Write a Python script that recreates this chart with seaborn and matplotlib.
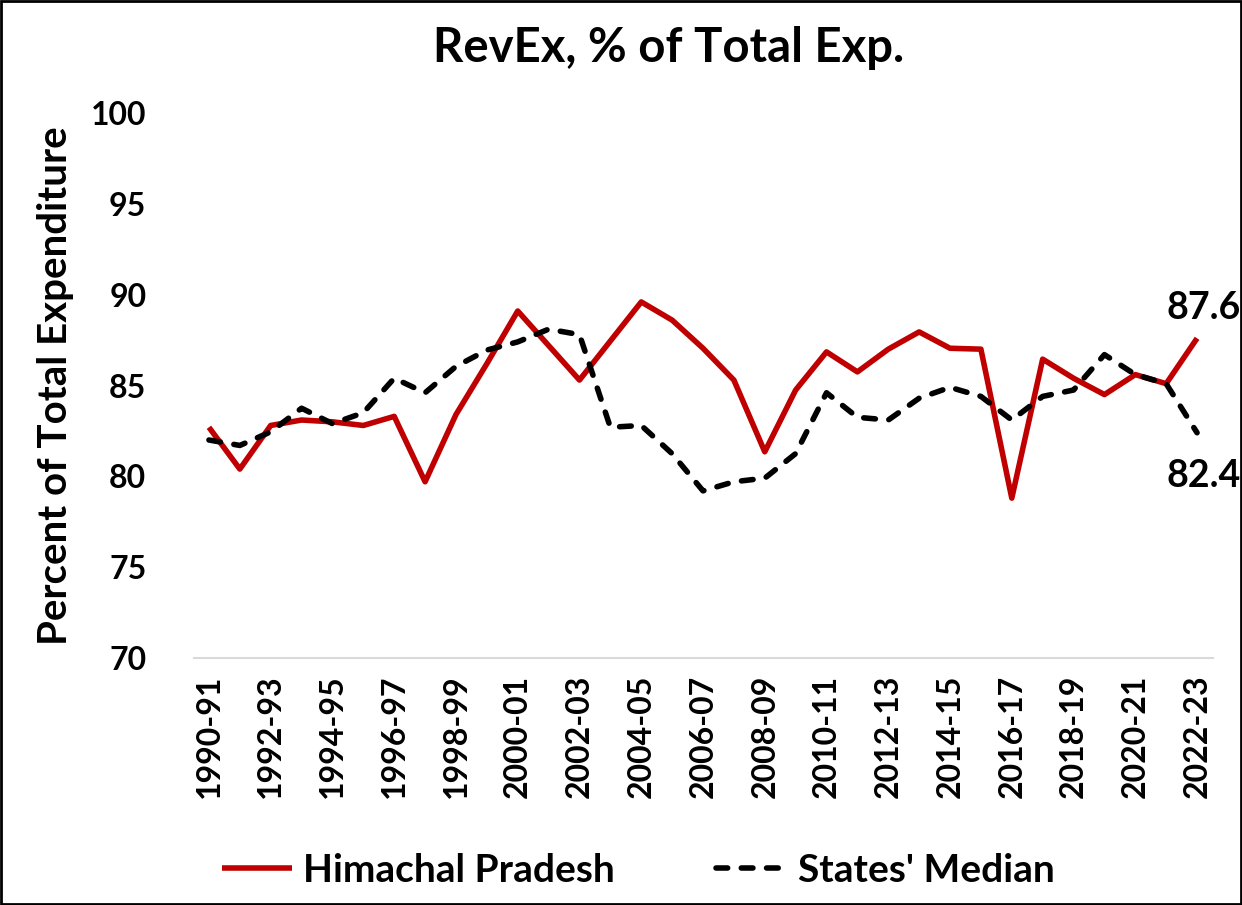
import matplotlib
matplotlib.use("Agg")
import matplotlib.pyplot as plt
from matplotlib.lines import Line2D
from matplotlib.patches import Rectangle
import seaborn as sns
import pandas as pd

years = [f"{y}-{str(y + 1)[-2:]}" for y in range(1990, 2023)]

himachal = [82.7, 80.4, 82.8, 83.1, 83.0, 82.8, 83.3, 79.7, 83.4, 86.2,
            89.1, 87.2, 85.3, 87.45, 89.6, 88.6, 87.05, 85.3, 81.35, 84.75,
            86.85, 85.75, 87.0, 87.95, 87.05, 87.0, 78.8, 86.45, 85.4, 84.5,
            85.6, 85.1, 87.6]

median = [82.0, 81.7, 82.45, 83.75, 82.9, 83.5, 85.4, 84.6, 86.05, 86.95,
          87.4, 88.1, 87.8, 82.7, 82.8, 81.25, 79.2, 79.7, 79.9, 81.25,
          84.6, 83.25, 83.1, 84.3, 84.9, 84.4, 83.1, 84.4, 84.75, 86.7,
          85.6, 85.1, 82.4]

series_names = ["Himachal Pradesh", "States' Median"]
colors = ["#C00000", "#000000"]
y_ticks = [70, 75, 80, 85, 90, 95, 100]

sns.set_theme(style="white")
plt.rcParams["font.family"] = ["Lato", "DejaVu Sans"]
plt.rcParams["font.weight"] = "bold"
for key in ["text.color", "axes.labelcolor", "xtick.color", "ytick.color"]:
    plt.rcParams[key] = "black"

df = pd.DataFrame({
    "pos": list(range(len(years))) * 2,
    "value": himachal + median,
    "series": [series_names[0]] * len(years) + [series_names[1]] * len(years),
})

dash_pattern = (2.1, 2.45)

fig = plt.figure(figsize=(12.42, 9.05), dpi=100)
ax = fig.add_axes([193.5 / 1242, 1 - 658 / 905, (1212.5 - 193.5) / 1242, (658 - 113) / 905])

sns.lineplot(data=df[df.series == series_names[0]], x="pos", y="value",
             color=colors[0], lw=4.0, ax=ax, legend=False)
sns.lineplot(data=df[df.series == series_names[1]], x="pos", y="value",
             color=colors[1], lw=4.0, ax=ax, legend=False)
ax.lines[1].set_dashes(dash_pattern)
ax.lines[1].set_dash_capstyle("round")
ax.lines[0].set_solid_capstyle("butt")

ax.set_xlim(-0.5, len(years) - 0.5)
ax.set_ylim(70, 100)
ax.set_yticks(y_ticks)
ax.set_yticklabels([str(t) for t in y_ticks], fontsize=23, fontweight="bold")
ax.set_xticks(range(0, len(years), 2))
ax.set_xticklabels(years[::2], rotation=90, fontsize=23, fontweight="bold")
ax.tick_params(axis="both", length=0)
ax.tick_params(axis="y", pad=34)
ax.tick_params(axis="x", pad=12)
ax.set_xlabel("")
ax.set_ylabel("Percent of Total Expenditure", fontsize=29, fontweight="bold", labelpad=12)
ax.grid(False)
for side in ["top", "right", "left"]:
    ax.spines[side].set_visible(False)
ax.spines["bottom"].set_color("#D9D9D9")
ax.spines["bottom"].set_linewidth(1.5)

fig.text(669 / 1242, 1 - 48 / 905, "RevEx, % of Total Exp.", ha="center", va="center",
         fontsize=34, fontweight="bold")

last = len(years) - 1
ax.annotate(f"{himachal[-1]:.1f}", xy=(last, himachal[-1]), xytext=(7, 30),
            textcoords="offset pixels", ha="center", va="center",
            fontsize=27, fontweight="bold", annotation_clip=False)
ax.annotate(f"{median[-1]:.1f}", xy=(last, median[-1]), xytext=(7, -43),
            textcoords="offset pixels", ha="center", va="center",
            fontsize=27, fontweight="bold", annotation_clip=False)

handles = [
    Line2D([], [], color=colors[0], lw=4.0, solid_capstyle="butt"),
    Line2D([], [], color=colors[1], lw=4.0, dashes=dash_pattern, dash_capstyle="round"),
]
fig.legend(handles, series_names, loc="center", bbox_to_anchor=(638 / 1242, 1 - 870 / 905),
           ncol=2, frameon=False, handlelength=1.8, handletextpad=0.3,
           columnspacing=2.6, prop={"weight": "bold", "size": 28})

fig.patches.append(Rectangle((0.001, 0.001), 0.998, 0.998, transform=fig.transFigure,
                             fill=False, edgecolor="black", lw=2))

fig.savefig("out.png", dpi=100, facecolor="white")
